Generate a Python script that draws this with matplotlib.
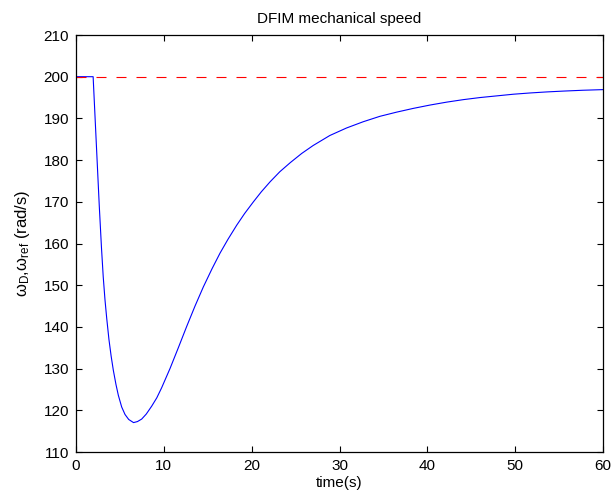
import matplotlib
matplotlib.use("Agg")
import matplotlib.pyplot as plt

plt.rcParams['font.family'] = ['Liberation Sans', 'DejaVu Sans']
plt.rcParams['mathtext.fontset'] = 'custom'
plt.rcParams['mathtext.rm'] = 'Liberation Sans'
plt.rcParams['mathtext.it'] = 'Liberation Sans:italic'
plt.rcParams['lines.scale_dashes'] = False

# Data
time_s = [0, 1.95, 2.3, 2.65, 2.9, 3.1, 3.3, 3.5, 3.75, 4.0, 4.25, 4.55, 4.82, 5.2, 5.58, 6.0,
          6.55, 7.0, 7.48, 8.0, 8.62, 9.2, 9.75, 10.7, 11.65, 12.6, 13.55, 14.5, 15.5,
          16.4, 17.3, 18.3, 19.2, 20.2, 21.1, 22.1, 23.2, 24.4, 25.7, 27.0, 28.9, 30.8,
          32.7, 34.6, 36.5, 38.4, 40.3, 42.2, 44.1, 46.0, 47.9, 49.8, 51.7, 53.6, 55.5,
          57.7, 60]
omega_D = [200, 200, 184.5, 169, 159, 152, 146.5, 142, 137, 133, 129.6, 126.2, 123.6, 120.8, 119.0, 117.8,
           117.05, 117.3, 117.9, 119.1, 121.0, 123.0, 125.4, 130.0, 135.0, 140.1, 145.0, 149.6, 154.0,
           157.7, 161.0, 164.4, 167.2, 170.0, 172.4, 174.8, 177.2, 179.4, 181.6, 183.5, 185.9, 187.7,
           189.2, 190.5, 191.5, 192.4, 193.2, 193.9, 194.5, 195.0, 195.4, 195.8, 196.1, 196.35, 196.55,
           196.75, 196.9]
ref_time = [0, 60]
omega_ref = [200, 200]
xticks = [0, 10, 20, 30, 40, 50, 60]
yticks = [110, 120, 130, 140, 150, 160, 170, 180, 190, 200, 210]

fig = plt.figure(figsize=(6.15, 4.97), dpi=100)
ax = fig.add_axes([76/615, 1-452/497, (603-76)/615, (452-35)/497])

ax.plot(time_s, omega_D, color=(0, 0, 1), lw=0.8)
ax.plot(ref_time, omega_ref, color=(1, 0, 0), lw=0.8, dashes=(7.2, 7.2))

ax.set_xlim(0, 60)
ax.set_ylim(110, 210)
ax.set_xticks(xticks)
ax.set_yticks(yticks)
ax.tick_params(direction='in', length=4, width=0.8, top=True, right=True, labelsize=11, pad=5)
for s in ax.spines.values():
    s.set_linewidth(0.9)

ax.set_title('DFIM mechanical speed', fontsize=11, pad=9)
ax.set_xlabel('time(s)', fontsize=11, labelpad=2)
ax.set_ylabel(r'$\mathregular{ω_D{,}ω_{ref}}$ (rad/s)', fontsize=12, labelpad=8)

fig.savefig('out.png', dpi=100)
